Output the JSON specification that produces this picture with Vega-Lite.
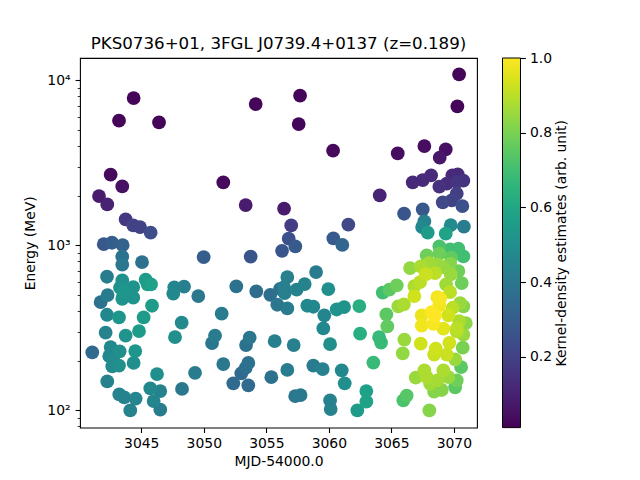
{"$schema":"https://vega.github.io/schema/vega-lite/v6.json","autosize":{"type":"none"},"padding":{"left":80,"top":58,"right":163,"bottom":52.4},"width":397,"height":369.6,"background":"white","title":{"text":"PKS0736+01, 3FGL J0739.4+0137 (z=0.189)","anchor":"middle","frame":"group","font":"DejaVu Sans","fontSize":16.67,"fontWeight":"normal","color":"black","offset":-2},"config":{"view":{"stroke":"black","strokeWidth":1.1},"font":"DejaVu Sans","axis":{"grid":false,"labelFont":"DejaVu Sans","titleFont":"DejaVu Sans","labelFontSize":13.9,"titleFontSize":13.9,"titleFontWeight":"normal","labelColor":"black","titleColor":"black","tickColor":"black","domain":false}},"data":{"values":[
{"mjd":3044.39,"energy":7816,"density":0.02},{"mjd":3043.22,"energy":5698,"density":0.02},{"mjd":3046.42,"energy":5565,"density":0.02},{"mjd":3054.15,"energy":7184,"density":0.02},{"mjd":3042.55,"energy":2682,"density":0.03},{"mjd":3043.48,"energy":2278,"density":0.05},{"mjd":3041.62,"energy":1990,"density":0.08},{"mjd":3042.28,"energy":1772,"density":0.1},{"mjd":3051.56,"energy":2409,"density":0.03},{"mjd":3053.35,"energy":1755,"density":0.08},{"mjd":3056.42,"energy":1669,"density":0.08},{"mjd":3043.75,"energy":1437,"density":0.17},{"mjd":3044.36,"energy":1322,"density":0.2},{"mjd":3044.9,"energy":1291,"density":0.2},{"mjd":3045.75,"energy":1194,"density":0.24},{"mjd":3042.0,"energy":1018,"density":0.28},{"mjd":3042.66,"energy":1038,"density":0.3},{"mjd":3043.51,"energy":1004,"density":0.32},{"mjd":3043.48,"energy":854,"density":0.38},{"mjd":3043.48,"energy":764,"density":0.4},{"mjd":3045.06,"energy":792,"density":0.38},{"mjd":3049.99,"energy":849,"density":0.3},{"mjd":3053.75,"energy":854,"density":0.27},{"mjd":3042.26,"energy":646,"density":0.42},{"mjd":3043.48,"energy":613,"density":0.5},{"mjd":3045.35,"energy":620,"density":0.55},{"mjd":3045.78,"energy":580,"density":0.57},{"mjd":3045.51,"energy":580,"density":0.56},{"mjd":3043.3,"energy":554,"density":0.5},{"mjd":3044.36,"energy":559,"density":0.52},{"mjd":3043.48,"energy":546,"density":0.52},{"mjd":3043.62,"energy":521,"density":0.53},{"mjd":3047.64,"energy":557,"density":0.46},{"mjd":3048.42,"energy":562,"density":0.43},{"mjd":3047.56,"energy":510,"density":0.47},{"mjd":3043.48,"energy":475,"density":0.52},{"mjd":3044.36,"energy":482,"density":0.52},{"mjd":3043.56,"energy":498,"density":0.52},{"mjd":3042.31,"energy":500,"density":0.42},{"mjd":3041.75,"energy":453,"density":0.38},{"mjd":3049.56,"energy":493,"density":0.4},{"mjd":3052.6,"energy":564,"density":0.38},{"mjd":3054.2,"energy":526,"density":0.36},{"mjd":3055.32,"energy":502,"density":0.36},{"mjd":3056.1,"energy":546,"density":0.38},{"mjd":3055.88,"energy":437,"density":0.4},{"mjd":3045.86,"energy":431,"density":0.55},{"mjd":3042.26,"energy":380,"density":0.47},{"mjd":3043.22,"energy":366,"density":0.53},{"mjd":3045.19,"energy":366,"density":0.55},{"mjd":3051.43,"energy":386,"density":0.42},{"mjd":3042.15,"energy":296,"density":0.45},{"mjd":3043.75,"energy":284,"density":0.52},{"mjd":3044.82,"energy":302,"density":0.55},{"mjd":3048.23,"energy":340,"density":0.48},{"mjd":3047.7,"energy":278,"density":0.5},{"mjd":3050.9,"energy":284,"density":0.42},{"mjd":3050.66,"energy":256,"density":0.4},{"mjd":3053.67,"energy":276,"density":0.4},{"mjd":3053.38,"energy":249,"density":0.38},{"mjd":3055.67,"energy":263,"density":0.43},{"mjd":3042.55,"energy":242,"density":0.47},{"mjd":3041.08,"energy":225,"density":0.35},{"mjd":3043.27,"energy":228,"density":0.5},{"mjd":3044.52,"energy":229,"density":0.53},{"mjd":3042.44,"energy":213,"density":0.47},{"mjd":3042.76,"energy":201,"density":0.48},{"mjd":3043.22,"energy":187,"density":0.5},{"mjd":3042.68,"energy":185,"density":0.48},{"mjd":3044.39,"energy":194,"density":0.5},{"mjd":3051.56,"energy":191,"density":0.4},{"mjd":3053.56,"energy":194,"density":0.38},{"mjd":3053.35,"energy":181,"density":0.37},{"mjd":3053.0,"energy":168,"density":0.35},{"mjd":3046.26,"energy":166,"density":0.5},{"mjd":3049.3,"energy":169,"density":0.42},{"mjd":3055.4,"energy":159,"density":0.38},{"mjd":3042.28,"energy":150,"density":0.45},{"mjd":3052.36,"energy":146,"density":0.35},{"mjd":3053.56,"energy":142,"density":0.35},{"mjd":3045.72,"energy":136,"density":0.47},{"mjd":3046.52,"energy":131,"density":0.45},{"mjd":3048.26,"energy":135,"density":0.4},{"mjd":3043.24,"energy":125,"density":0.45},{"mjd":3043.64,"energy":120,"density":0.45},{"mjd":3044.55,"energy":118,"density":0.46},{"mjd":3045.99,"energy":114,"density":0.46},{"mjd":3044.12,"energy":100,"density":0.45},{"mjd":3046.52,"energy":101,"density":0.42},
{"mjd":3070.42,"energy":10875,"density":0.02},{"mjd":3070.28,"energy":6957,"density":0.02},{"mjd":3057.7,"energy":8080,"density":0.02},{"mjd":3057.59,"energy":5435,"density":0.02},{"mjd":3060.34,"energy":3749,"density":0.03},{"mjd":3065.51,"energy":3611,"density":0.04},{"mjd":3067.64,"energy":3999,"density":0.04},{"mjd":3069.35,"energy":3817,"density":0.05},{"mjd":3068.87,"energy":3400,"density":0.07},{"mjd":3064.07,"energy":2009,"density":0.1},{"mjd":3056.99,"energy":1322,"density":0.18},{"mjd":3056.79,"energy":1098,"density":0.25},{"mjd":3057.32,"energy":986,"density":0.29},{"mjd":3056.26,"energy":927,"density":0.27},{"mjd":3061.56,"energy":1335,"density":0.22},{"mjd":3060.36,"energy":1103,"density":0.29},{"mjd":3061.08,"energy":1007,"density":0.33},{"mjd":3066.02,"energy":1556,"density":0.27},{"mjd":3067.51,"energy":1653,"density":0.28},{"mjd":3066.71,"energy":2409,"density":0.12},{"mjd":3067.51,"energy":2488,"density":0.13},{"mjd":3068.18,"energy":2656,"density":0.13},{"mjd":3068.84,"energy":2269,"density":0.15},{"mjd":3069.43,"energy":2365,"density":0.14},{"mjd":3069.88,"energy":2656,"density":0.12},{"mjd":3070.31,"energy":2693,"density":0.13},{"mjd":3070.76,"energy":2467,"density":0.15},{"mjd":3070.23,"energy":2419,"density":0.16},{"mjd":3070.23,"energy":2057,"density":0.19},{"mjd":3069.83,"energy":1874,"density":0.2},{"mjd":3069.11,"energy":1822,"density":0.22},{"mjd":3070.68,"energy":1731,"density":0.25},{"mjd":3067.64,"energy":1398,"density":0.43},{"mjd":3067.46,"energy":1291,"density":0.47},{"mjd":3067.91,"energy":1194,"density":0.55},{"mjd":3069.75,"energy":1327,"density":0.48},{"mjd":3069.35,"energy":1178,"density":0.58},{"mjd":3070.8,"energy":1298,"density":0.42},{"mjd":3068.84,"energy":986,"density":0.72},{"mjd":3069.7,"energy":946,"density":0.7},{"mjd":3070.36,"energy":955,"density":0.7},{"mjd":3067.83,"energy":870,"density":0.78},{"mjd":3068.84,"energy":891,"density":0.78},{"mjd":3069.78,"energy":842,"density":0.76},{"mjd":3070.76,"energy":858,"density":0.7},{"mjd":3070.36,"energy":898,"density":0.7},{"mjd":3066.5,"energy":729,"density":0.84},{"mjd":3067.35,"energy":746,"density":0.88},{"mjd":3068.01,"energy":781,"density":0.86},{"mjd":3068.68,"energy":767,"density":0.85},{"mjd":3069.16,"energy":739,"density":0.84},{"mjd":3069.7,"energy":775,"density":0.82},{"mjd":3070.36,"energy":699,"density":0.78},{"mjd":3069.75,"energy":667,"density":0.85},{"mjd":3068.5,"energy":679,"density":0.9},{"mjd":3067.75,"energy":667,"density":0.92},{"mjd":3070.63,"energy":591,"density":0.78},{"mjd":3067.3,"energy":599,"density":0.9},{"mjd":3066.84,"energy":567,"density":0.88},{"mjd":3069.38,"energy":580,"density":0.86},{"mjd":3069.7,"energy":521,"density":0.9},{"mjd":3065.43,"energy":572,"density":0.78},{"mjd":3064.84,"energy":539,"density":0.75},{"mjd":3064.31,"energy":517,"density":0.7},{"mjd":3066.84,"energy":493,"density":0.93},{"mjd":3068.68,"energy":486,"density":0.98},{"mjd":3068.9,"energy":477,"density":0.99},{"mjd":3066.0,"energy":439,"density":0.88},{"mjd":3065.56,"energy":427,"density":0.85},{"mjd":3070.5,"energy":447,"density":0.85},{"mjd":3070.76,"energy":427,"density":0.82},{"mjd":3069.91,"energy":419,"density":0.9},{"mjd":3069.56,"energy":377,"density":0.93},{"mjd":3068.84,"energy":433,"density":0.98},{"mjd":3064.6,"energy":382,"density":0.75},{"mjd":3067.43,"energy":377,"density":0.97},{"mjd":3068.23,"energy":394,"density":1.0},{"mjd":3068.5,"energy":377,"density":1.0},{"mjd":3070.42,"energy":348,"density":0.88},{"mjd":3070.95,"energy":338,"density":0.83},{"mjd":3064.68,"energy":323,"density":0.76},{"mjd":3067.43,"energy":327,"density":0.98},{"mjd":3068.36,"energy":335,"density":0.99},{"mjd":3069.16,"energy":313,"density":0.96},{"mjd":3070.23,"energy":313,"density":0.9},{"mjd":3064.18,"energy":258,"density":0.68},{"mjd":3064.02,"energy":278,"density":0.68},{"mjd":3066.04,"energy":269,"density":0.85},{"mjd":3067.35,"energy":254,"density":0.93},{"mjd":3065.91,"energy":222,"density":0.84},{"mjd":3068.55,"energy":237,"density":0.93},{"mjd":3068.42,"energy":218,"density":0.92},{"mjd":3069.43,"energy":218,"density":0.92},{"mjd":3069.64,"energy":257,"density":0.93},{"mjd":3070.23,"energy":301,"density":0.89},{"mjd":3070.76,"energy":288,"density":0.85},{"mjd":3070.71,"energy":240,"density":0.8},{"mjd":3070.1,"energy":204,"density":0.85},{"mjd":3070.58,"energy":183,"density":0.75},{"mjd":3067.64,"energy":175,"density":0.88},{"mjd":3066.95,"energy":158,"density":0.85},{"mjd":3067.83,"energy":159,"density":0.88},{"mjd":3069.16,"energy":175,"density":0.88},{"mjd":3069.56,"energy":159,"density":0.85},{"mjd":3070.23,"energy":152,"density":0.78},{"mjd":3070.1,"energy":138,"density":0.75},{"mjd":3068.68,"energy":152,"density":0.87},{"mjd":3068.1,"energy":145,"density":0.86},{"mjd":3069.03,"energy":133,"density":0.82},{"mjd":3068.42,"energy":130,"density":0.82},{"mjd":3066.23,"energy":123,"density":0.74},{"mjd":3065.96,"energy":115,"density":0.72},{"mjd":3068.04,"energy":100,"density":0.82},
{"mjd":3058.98,"energy":689,"density":0.42},{"mjd":3059.96,"energy":543,"density":0.5},{"mjd":3056.68,"energy":643,"density":0.43},{"mjd":3058.07,"energy":583,"density":0.45},{"mjd":3057.43,"energy":539,"density":0.45},{"mjd":3056.42,"energy":559,"density":0.43},{"mjd":3056.47,"energy":514,"density":0.43},{"mjd":3056.68,"energy":415,"density":0.42},{"mjd":3058.28,"energy":431,"density":0.47},{"mjd":3058.76,"energy":425,"density":0.47},{"mjd":3059.64,"energy":377,"density":0.46},{"mjd":3059.56,"energy":314,"density":0.47},{"mjd":3060.63,"energy":409,"density":0.52},{"mjd":3061.22,"energy":423,"density":0.52},{"mjd":3062.44,"energy":429,"density":0.63},{"mjd":3062.5,"energy":292,"density":0.63},{"mjd":3060.1,"energy":252,"density":0.5},{"mjd":3057.19,"energy":249,"density":0.43},{"mjd":3063.56,"energy":195,"density":0.68},{"mjd":3056.68,"energy":176,"density":0.42},{"mjd":3058.76,"energy":187,"density":0.42},{"mjd":3059.51,"energy":178,"density":0.44},{"mjd":3061.03,"energy":175,"density":0.47},{"mjd":3061.27,"energy":146,"density":0.5},{"mjd":3063.0,"energy":131,"density":0.57},{"mjd":3063.0,"energy":113,"density":0.58},{"mjd":3062.28,"energy":100,"density":0.55},{"mjd":3057.31,"energy":122,"density":0.4},{"mjd":3057.74,"energy":124,"density":0.41},{"mjd":3060.1,"energy":115,"density":0.45},{"mjd":3060.15,"energy":102,"density":0.45}
]},"layer":[{"mark":{"type":"point","filled":true,"size":190,"opacity":1},"encoding":{"x":{"field":"mjd","type":"quantitative","scale":{"domain":[3040.1,3071.85],"nice":false,"zero":false},"axis":{"values":[3045,3050,3055,3060,3065,3070],"format":"d","title":"MJD-54000.0","tickSize":4.9,"tickWidth":1.1,"labelPadding":4,"titlePadding":4,"labelFlush":false}},"y":{"field":"energy","type":"quantitative","scale":{"type":"log","domain":[78.7,13670],"nice":false},"axis":{"values":[80,90,100,200,300,400,500,600,700,800,900,1000,2000,3000,4000,5000,6000,7000,8000,9000,10000],"labelExpr":"datum.value==100?'10²':datum.value==1000?'10³':datum.value==10000?'10⁴':''","labelOverlap":false,"labelBound":false,"title":"Energy (MeV)","tickSize":{"condition":{"test":"datum.value==100||datum.value==1000||datum.value==10000","value":4.9},"value":2.8},"tickWidth":{"condition":{"test":"datum.value==100||datum.value==1000||datum.value==10000","value":1.1},"value":0.8},"labelPadding":5,"titlePadding":9}},"color":{"field":"density","type":"quantitative","scale":{"scheme":"viridis","domain":[0.01,1]},"legend":{"orient":"none","legendX":422.5,"legendY":0,"direction":"vertical","gradientLength":369.6,"gradientThickness":18,"gradientStrokeColor":"black","gradientStrokeWidth":1,"title":null,"labelExpr":"''","tickCount":5}},"order":{"field":"density","type":"quantitative"}}},{"mark":{"type":"point","opacity":0},"encoding":{"x":{"field":"mjd","type":"quantitative"},"y":{"field":"density","type":"quantitative","scale":{"domain":[0.01,1],"nice":false,"zero":false},"axis":{"orient":"right","offset":43.5,"values":[0.2,0.4,0.6,0.8,1.0],"format":".1f","title":"Kernel-density estimates (arb. unit)","titleAngle":-90,"tickSize":4.9,"tickWidth":1.1,"labelPadding":4,"titlePadding":17,"labelBound":false,"labelFlush":false}}}}],"resolve":{"scale":{"y":"independent"}}}
